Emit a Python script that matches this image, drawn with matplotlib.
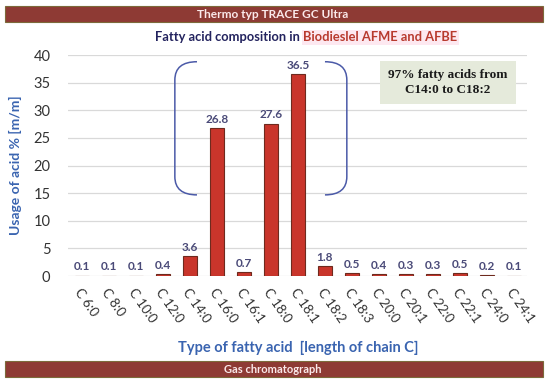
import matplotlib
matplotlib.use('Agg')
import matplotlib.pyplot as plt
from matplotlib.path import Path
from matplotlib.patches import PathPatch, Rectangle

# data
acids = ["C 6:0", "C 8:0", "C 10:0", "C 12:0", "C 14:0", "C 16:0", "C 16:1", "C 18:0",
         "C 18:1", "C 18:2", "C 18:3", "C 20:0", "C 20:1", "C 22:0", "C 22:1", "C 24:0", "C 24:1"]
usage = [0.1, 0.1, 0.1, 0.4, 3.6, 26.8, 0.7, 27.6, 36.5, 1.8, 0.5, 0.4, 0.3, 0.3, 0.5, 0.2, 0.1]
y_ticks = [0, 5, 10, 15, 20, 25, 30, 35, 40]

plt.rcParams['font.family'] = ['Lato', 'DejaVu Sans']

fig = plt.figure(figsize=(5.5, 3.84), dpi=100)
ax = fig.add_axes([0.1245, 0.281, 0.8345, 0.5755])

x = range(len(acids))
ax.bar(x, usage, width=0.55, color='#c9352b', edgecolor='#6e2a1e', linewidth=0.8, zorder=3)
for i, v in enumerate(usage):
    ax.text(i, v + 0.6, f"{v:.1f}", ha='center', va='bottom', fontsize=8.5,
            fontweight='bold', color='#4a4a78', zorder=4)

ax.set_xlim(-0.5, len(acids) - 0.5)
ax.set_ylim(0, 40)
ax.set_yticks(y_ticks)
ax.set_xticks(list(x))
ax.set_xticklabels(acids, rotation=-55, ha='left', va='top', rotation_mode='anchor',
                   fontsize=9.5, color='#333333')
ax.tick_params(axis='both', length=0, colors='#333333')
ax.tick_params(axis='y', labelsize=10.5, pad=13)
ax.tick_params(axis='x', pad=7)
ax.grid(axis='y', color='#d9d9d9', linewidth=0.9, zorder=0)
for s in ax.spines.values():
    s.set_visible(False)

ax.set_ylabel("Usage of acid % [m/m]", fontsize=10, fontweight='bold', color='#3a64b0', labelpad=8)
ax.set_xlabel("Type of fatty acid  [length of chain C]", fontsize=10.5, fontweight='bold',
              color='#3a64b0', labelpad=12)

# curly brackets around the main acids
blue = '#4b5aa8'
left = Path([(4.26, 38.8), (3.44, 38.8), (3.44, 35.5), (3.44, 18.0), (3.44, 14.7), (4.26, 14.7)],
            [Path.MOVETO, Path.CURVE3, Path.CURVE3, Path.LINETO, Path.CURVE3, Path.CURVE3])
right = Path([(9.0, 38.8), (9.81, 38.8), (9.81, 35.5), (9.81, 18.0), (9.81, 14.7), (9.0, 14.7)],
             [Path.MOVETO, Path.CURVE3, Path.CURVE3, Path.LINETO, Path.CURVE3, Path.CURVE3])
for p in (left, right):
    ax.add_patch(PathPatch(p, facecolor='none', edgecolor=blue, linewidth=1.1, zorder=5))

ax.text(0.827, 0.875, "97% fatty acids from\nC14:0 to C18:2", transform=ax.transAxes,
        ha='center', va='center', fontsize=9.5, fontweight='bold', family='Liberation Serif',
        color='#1a1a1a', linespacing=1.3,
        bbox=dict(boxstyle='square,pad=0.6', facecolor='#e5eadb', edgecolor='none'))

# title in two colours
t1 = fig.text(0.282, 0.903, "Fatty acid composition in ", fontsize=9.3, fontweight='bold',
              color='#23235e', ha='left', va='center')
fig.canvas.draw()
bb = t1.get_window_extent()
fig.text(bb.x1 / fig.bbox.width, 0.903, "Biodieslel AFME and AFBE", fontsize=9.3, fontweight='bold',
         color='#b83a2e', ha='left', va='center',
         bbox=dict(boxstyle='square,pad=0.1', facecolor='#fde8f0', edgecolor='none'))

# header and footer bands
for y0, label, fs in [(0.943, "Thermo typ TRACE GC Ultra", 8.6), (0.018, "Gas chromatograph", 8)]:
    fig.patches.append(Rectangle((0.009, y0), 0.978, 0.041, transform=fig.transFigure,
                                 facecolor='#8e3a34', edgecolor='#7c6a3a', linewidth=0.8))
    fig.text(0.495, y0 + 0.0205, label, fontsize=fs, fontweight='bold', color='#fbe9ea',
             ha='center', va='center')

fig.savefig("out.png", dpi=100)
